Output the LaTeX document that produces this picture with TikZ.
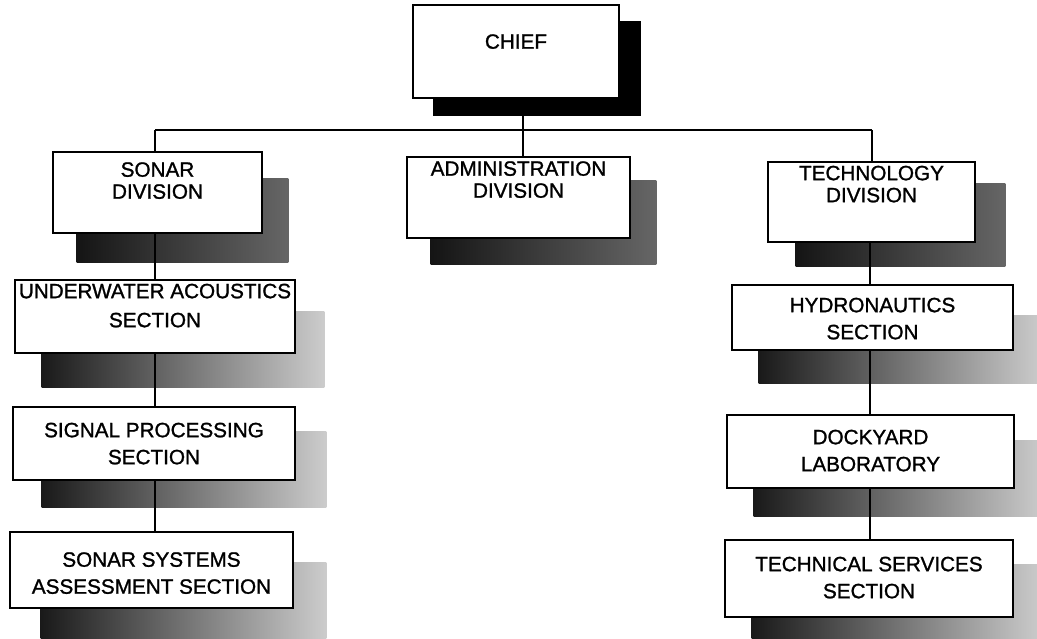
\documentclass[tikz,border=0pt]{standalone}
\usepackage{fontspec}
\setmainfont{Liberation Sans}[FakeBold=1.2]
\pgfdeclarelayer{bglayer}
\pgfdeclarelayer{shadowlayer}
\pgfdeclarelayer{linelayer}
\pgfsetlayers{bglayer,shadowlayer,linelayer,main}
\newcommand\bxt[2]{\raisebox{#1}[0pt][0pt]{\begin{tabular}{@{}c@{}}#2\end{tabular}}}
\newcommand\boxshadow[4]{\fill[#4] ([shift={(#2,#3)}]#1.north west) rectangle ([shift={(#2,#3)}]#1.south east);}
\tikzset{
  boxbase/.style={draw=black, line width=2.6pt, fill=white, inner sep=0pt},
  divbox/.style={boxbase, font=\fontsize{20.7}{22}\selectfont\addfontfeature{FakeBold=1.2}},
  secbox/.style={boxbase, font=\fontsize{20.7}{27}\selectfont\addfontfeature{FakeBold=1.2}},
  conn/.style={line width=2.2pt, draw=black},
  shsolid/.style={fill=black},
  shdiv/.style={left color=black!92, right color=black!60},
  shsec/.style={left color=black!90, right color=black!20},
}
\begin{document}
\begin{tikzpicture}[x=1pt,y=-1pt]
\useasboundingbox (0,0) rectangle (1037,639);
\begin{pgfonlayer}{bglayer}
\fill[white] (0,0) rectangle (1037,639);
\end{pgfonlayer}
% top
\node[divbox, minimum width=206pt, minimum height=93pt] (chief) at (516,51.5) {\bxt{2pt}{CHIEF}};
% divisions
\node[divbox, minimum width=209pt, minimum height=81pt] (sonar) at (157.5,192.5) {\bxt{4pt}{SONAR\\DIVISION}};
\node[divbox, minimum width=223pt, minimum height=81pt] (admin) at (518.5,197.5) {\bxt{10pt}{ADMINISTRATION\\DIVISION}};
\node[divbox, minimum width=207pt, minimum height=80pt] (tech) at (871.5,202) {\bxt{10pt}{TECHNOLOGY\\DIVISION}};
% left sections
\node[secbox, minimum width=280pt, minimum height=73pt] (uwa) at (155,316.5) {\bxt{4pt}{UNDERWATER ACOUSTICS\\[2pt]SECTION}};
\node[secbox, minimum width=282pt, minimum height=73pt] (sig) at (154,443.5) {\bxt{-7pt}{SIGNAL PROCESSING\\SECTION}};
\node[secbox, minimum width=283pt, minimum height=76pt] (ssa) at (151.5,570) {\bxt{-10pt}{SONAR SYSTEMS\\ASSESSMENT SECTION}};
% right sections
\node[secbox, minimum width=281pt, minimum height=65pt] (hyd) at (872.5,317.5) {\bxt{-8pt}{HYDRONAUTICS\\SECTION}};
\node[secbox, minimum width=287pt, minimum height=73pt] (dock) at (870.5,451.5) {\bxt{-6pt}{DOCKYARD\\LABORATORY}};
\node[secbox, minimum width=288pt, minimum height=77pt] (tss) at (869,578.5) {\bxt{-6pt}{TECHNICAL SERVICES\\SECTION}};
% shadows
\begin{pgfonlayer}{shadowlayer}
\boxshadow{chief}{21}{17}{shsolid}
\boxshadow{sonar}{25}{28}{shdiv}
\boxshadow{admin}{25}{25}{shdiv}
\boxshadow{tech}{29}{23}{shdiv}
\boxshadow{uwa}{28}{33}{shsec}
\boxshadow{sig}{30}{26}{shsec}
\boxshadow{ssa}{32}{32}{shsec}
\boxshadow{hyd}{28}{32}{shsec}
\boxshadow{dock}{28}{27}{shsec}
\boxshadow{tss}{28}{26}{shsec}
\end{pgfonlayer}
% connectors
\coordinate (busL) at (155,130);
\coordinate (busM) at (523,130);
\coordinate (busR) at (872,130);
\coordinate (colL) at (155,0);
\coordinate (colR) at (870,0);
\begin{pgfonlayer}{linelayer}
\draw[conn] (busL) -- (busR);
\draw[conn] (busM |- chief.south) -- (busM) -- (busM |- admin.north);
\draw[conn] (busL) -- (busL |- sonar.north);
\draw[conn] (busR) -- (busR |- tech.north);
\draw[conn] (colL |- sonar.south) -- (colL |- uwa.north);
\draw[conn] (colL |- uwa.south) -- (colL |- sig.north);
\draw[conn] (colL |- sig.south) -- (colL |- ssa.north);
\draw[conn] (colR |- tech.south) -- (colR |- hyd.north);
\draw[conn] (colR |- hyd.south) -- (colR |- dock.north);
\draw[conn] (colR |- dock.south) -- (colR |- tss.north);
\end{pgfonlayer}
\end{tikzpicture}
\end{document}
